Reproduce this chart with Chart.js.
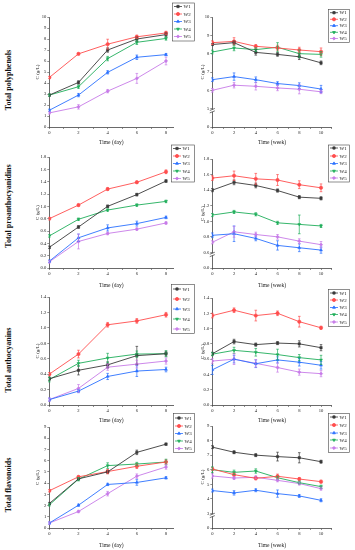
<!DOCTYPE html>
<html><head><meta charset="utf-8">
<script src="https://cdn.jsdelivr.net/npm/chart.js@4/dist/chart.umd.min.js"></script>
<style>
html,body{margin:0;padding:0;background:#fff;}
body{width:355px;height:550px;position:relative;overflow:hidden;font-family:"Liberation Serif",serif;}
canvas{position:absolute;}
.rowlab{position:absolute;font:bold 8px "Liberation Serif",serif;white-space:nowrap;transform:translate(-50%,-50%) rotate(-90deg);color:#111;}
</style></head><body>
<div class="rowlab" style="left:8px;top:80px">Total polyphenols</div>
<div class="rowlab" style="left:8px;top:206px">Total proanthocyanidins</div>
<div class="rowlab" style="left:8px;top:360px">Total anthocyanins</div>
<div class="rowlab" style="left:8px;top:485px">Total flavonoids</div>
<script>
// ---------- data ----------
const seriesNames = ['W1','W2','W3','W4','W5'];
const dayX = [0,2,4,6,8];
const weekX = [0,2,4,6,8,10];
const dayAxisTicks = [0,1,2,3,4,5,6,7,8];
const dayAxisLabels = ['0','','2','','4','','6','','8'];
const weekAxisTicks = [0,1,2,3,4,5,6,7,8,9,10,11];
const weekAxisLabels = ['0','','2','','4','','6','','8','','10',''];

// Total polyphenols (day)
const polyDay = [[2.9,4.05,7.0,8.0,8.4],[4.5,6.65,7.53,8.2,8.55],[1.52,2.9,4.97,6.34,6.58],[2.9,3.66,6.22,7.7,8.05],[1.28,1.83,3.26,4.42,6.0]];
const polyDayErr = [[0.1,0.15,0.2,0.2,0.2],[0.1,0.1,0.45,0.15,0.15],[0.1,0.15,0.15,0.2,0.1],[0.1,0.15,0.2,0.2,0.15],[0.1,0.2,0.15,0.45,0.35]];
const polyDayYTicks = [0,1,2,3,4,5,6,7,8,9,10];
const polyDayYLabels = ['0','1','2','3','4','5','6','7','8','9','10'];
// Total polyphenols (week)
const polyWeek = [[8.5,8.6,8.07,7.96,7.83,7.5],[8.6,8.67,8.4,8.31,8.2,8.11],[6.58,6.75,6.58,6.37,6.26,6.07],[8.09,8.31,8.22,8.35,8.0,7.96],[6.0,6.28,6.22,6.13,6.06,5.92]];
const polyWeekErr = [[0.05,0.1,0.15,0.1,0.15,0.1],[0.1,0.2,0.1,0.15,0.15,0.2],[0.1,0.2,0.15,0.1,0.15,0.2],[0.1,0.15,0.1,0.25,0.2,0.15],[0.1,0.15,0.2,0.15,0.25,0.1]];
const polyWeekYTicks = [4,5,6,7,8,9,10];
const polyWeekYLabels = ['0','5','6','7','8','9','10'];
// Total proanthocyanidins (day)
const proDay = [[0.335,0.665,1.0,1.19,1.41],[0.8,1.02,1.28,1.39,1.56],[0.11,0.49,0.65,0.72,0.82],[0.52,0.79,0.94,1.02,1.08],[0.1,0.43,0.56,0.63,0.73]];
const proDayErr = [[0.02,0.02,0.02,0.02,0.02],[0.02,0.02,0.02,0.02,0.03],[0.02,0.06,0.05,0.04,0.02],[0.02,0.02,0.02,0.02,0.02],[0.02,0.12,0.02,0.02,0.02]];
const proDayYTicks = [0,0.2,0.4,0.6,0.8,1.0,1.2,1.4,1.6,1.8];
const proDayYLabels = ['0.0','0.2','0.4','0.6','0.8','1.0','1.2','1.4','1.6','1.8'];
// Total proanthocyanidins (week)
const proWeek = [[1.4,1.5,1.46,1.395,1.31,1.295],[1.555,1.585,1.545,1.53,1.47,1.43],[0.82,0.84,0.78,0.69,0.66,0.63],[1.08,1.12,1.09,0.98,0.96,0.94],[0.73,0.865,0.83,0.8,0.745,0.7]];
const proWeekErr = [[0.02,0.03,0.03,0.02,0.02,0.02],[0.03,0.06,0.07,0.07,0.05,0.05],[0.03,0.1,0.03,0.06,0.05,0.04],[0.02,0.02,0.02,0.02,0.12,0.02],[0.02,0.07,0.03,0.03,0.03,0.04]];
const proWeekYTicks = [0.4,0.6,0.8,1.0,1.2,1.4,1.6,1.8];
const proWeekYLabels = ['0.0','0.6','0.8','1.0','1.2','1.4','1.6','1.8'];
// Total anthocyanins (day)
const antDay = [[0.34,0.45,0.52,0.64,0.665],[0.4,0.66,1.04,1.09,1.17],[0.07,0.18,0.37,0.44,0.46],[0.33,0.54,0.61,0.66,0.665],[0.07,0.215,0.49,0.53,0.57]];
const antDayErr = [[0.02,0.06,0.04,0.12,0.03],[0.02,0.05,0.03,0.03,0.03],[0.02,0.02,0.04,0.07,0.03],[0.03,0.04,0.06,0.04,0.04],[0.02,0.05,0.04,0.05,0.04]];
const antYTicks = [0,0.2,0.4,0.6,0.8,1.0,1.2,1.4];
const antYLabels = ['0.0','0.2','0.4','0.6','0.8','1.0','1.2','1.4'];
// Total anthocyanins (week)
const antWeek = [[0.67,0.83,0.79,0.81,0.8,0.75],[1.17,1.24,1.17,1.2,1.09,1.01],[0.46,0.6,0.54,0.59,0.56,0.52],[0.665,0.715,0.69,0.66,0.62,0.59],[0.575,0.6,0.545,0.49,0.43,0.41]];
const antWeekErr = [[0.02,0.03,0.02,0.02,0.04,0.04],[0.03,0.03,0.07,0.03,0.07,0.02],[0.06,0.05,0.05,0.04,0.05,0.05],[0.02,0.04,0.05,0.07,0.04,0.06],[0.03,0.07,0.05,0.06,0.04,0.04]];
// Total flavonoids (day)
const flaDay = [[2.18,4.38,5.0,6.74,7.47],[3.32,4.56,5.03,5.5,5.88],[0.44,2.03,3.88,4.06,4.47],[2.06,4.35,5.56,5.7,5.88],[0.44,1.47,3.06,4.62,5.44]];
const flaDayErr = [[0.1,0.1,0.15,0.2,0.1],[0.1,0.1,0.2,0.2,0.2],[0.1,0.1,0.1,0.25,0.1],[0.1,0.15,0.25,0.15,0.25],[0.1,0.1,0.2,0.2,0.2]];
const flaDayYTicks = [0,1,2,3,4,5,6,7,8,9];
const flaDayYLabels = ['0','1','2','3','4','5','6','7','8','9'];
// Total flavonoids (week)
const flaWeek = [[7.55,7.2,7.0,6.9,6.82,6.55],[6.05,5.66,5.41,5.55,5.36,5.18],[4.57,4.41,4.59,4.36,4.2,3.9],[6.0,5.82,5.91,5.45,5.11,4.84],[5.57,5.43,5.48,5.27,5.05,4.7]];
const flaWeekErr = [[0.1,0.1,0.1,0.3,0.35,0.1],[0.1,0.1,0.1,0.15,0.1,0.1],[0.1,0.15,0.1,0.25,0.1,0.1],[0.2,0.15,0.15,0.1,0.1,0.1],[0.15,0.1,0.1,0.1,0.1,0.1]];
const flaWeekYTicks = [2,3,4,5,6,7,8,9];
const flaWeekYLabels = ['0','3','4','5','6','7','8','9'];

// ---------- styles ----------
const colors = ['#3a3a3a','#ff4d4d','#2a70ff','#1fae5a','#c77be8'];
const pStyles = ['rect','circle','triangle','triangle','rectRot'];
const pRot = [0,0,0,180,0];
const FONT = '"Liberation Serif", serif';

const errorBars = {
  id:'errorBars',
  afterDatasetsDraw(chart){
    const {ctx, scales:{x,y}} = chart;
    chart.data.datasets.forEach(ds=>{
      if(!ds.errors) return;
      ctx.save(); ctx.strokeStyle=ds.borderColor; ctx.lineWidth=0.7;
      ds.data.forEach((p,i)=>{
        const e=ds.errors[i]; if(!e) return;
        const px=x.getPixelForValue(p.x), y1=y.getPixelForValue(p.y-e), y2=y.getPixelForValue(p.y+e);
        ctx.beginPath(); ctx.moveTo(px,y1); ctx.lineTo(px,y2);
        ctx.moveTo(px-1.3,y1); ctx.lineTo(px+1.3,y1);
        ctx.moveTo(px-1.3,y2); ctx.lineTo(px+1.3,y2);
        ctx.stroke();
      });
      ctx.restore();
    });
  }
};
const axisBreak = {
  id:'axisBreak',
  afterDraw(chart, args, opts){
    if(opts.value===undefined || opts.value===null) return;
    const {ctx, scales:{y}, chartArea} = chart;
    const yy = y.getPixelForValue(opts.value)+2, xx = chartArea.left;
    ctx.save();
    ctx.fillStyle='#fff'; ctx.fillRect(xx-2.5, yy-1.2, 5, 2.4);
    ctx.strokeStyle='#333'; ctx.lineWidth=0.7;
    ctx.beginPath();
    ctx.moveTo(xx-2.5,yy-0.2); ctx.lineTo(xx+2.5,yy-2.2);
    ctx.moveTo(xx-2.5,yy+2.2); ctx.lineTo(xx+2.5,yy+0.2);
    ctx.stroke(); ctx.restore();
  }
};
const boxLegend = {
  id:'boxLegend',
  afterDraw(chart, args, o){
    if(!o || !o.items) return;
    const ctx = chart.ctx;
    ctx.save();
    ctx.strokeStyle='#444'; ctx.lineWidth=0.6;
    ctx.strokeRect(o.x+0.5, o.y+0.5, o.w, o.h);
    chart.data.datasets.forEach((ds,i)=>{
      const yy = o.items[i];
      ctx.strokeStyle=ds.borderColor; ctx.lineWidth=0.8;
      ctx.beginPath(); ctx.moveTo(o.x+2, yy); ctx.lineTo(o.x+10, yy); ctx.stroke();
      ctx.fillStyle=ds.borderColor;
      Chart.helpers.drawPoint(ctx,{pointStyle:ds.pointStyle, radius:1.6, rotation:ds.pointRotation||0, borderWidth:0.6},o.x+6,yy);
      ctx.fillStyle='#222'; ctx.font='5px '+FONT; ctx.textBaseline='middle'; ctx.textAlign='left';
      ctx.fillText(ds.label, o.x+11.5, yy+0.3);
    });
    ctx.restore();
  }
};

const LX = [49.3,173.3], RX = [212.3,331.9];
const panels = [
  {vals:polyDay, err:polyDayErr, xs:dayX, xMax:8.5, xt:dayAxisTicks, xl:dayAxisLabels, xTitle:'Time (day)', yt:polyDayYTicks, yl:polyDayYLabels, area:[LX[0],LX[1],17,127], xH:19, cR:196, tPad:0, leg:{x:172,y:2.5,w:22,h:38,items:[6.5,14,21.5,29,36.5]}},
  {vals:polyWeek, err:polyWeekErr, xs:weekX, xMax:11, xt:weekAxisTicks, xl:weekAxisLabels, xTitle:'Time (week)', yt:polyWeekYTicks, yl:polyWeekYLabels, brk:5, area:[RX[0],RX[1],17,127], xH:19, cR:355, tPad:2, leg:{x:328,y:9,w:21,h:33,items:[12.7,19.3,25.7,32.3,38.5]}},
  {vals:proDay, err:proDayErr, xs:dayX, xMax:8.5, xt:dayAxisTicks, xl:dayAxisLabels, xTitle:'Time (day)', yt:proDayYTicks, yl:proDayYLabels, area:[LX[0],LX[1],157,268], xH:21, cR:196, tPad:0, leg:{x:171,y:144.5,w:23,h:37,items:[148.5,156,163.5,171,178.5]}},
  {vals:proWeek, err:proWeekErr, xs:weekX, xMax:11, xt:weekAxisTicks, xl:weekAxisLabels, xTitle:'Time (week)', yt:proWeekYTicks, yl:proWeekYLabels, brk:0.6, area:[RX[0],RX[1],159,268], xH:21, cR:355, tPad:2, leg:{x:328,y:144.5,w:21,h:37,items:[148,156,163.5,171,178]}},
  {vals:antDay, err:antDayErr, xs:dayX, xMax:8.5, xt:dayAxisTicks, xl:dayAxisLabels, xTitle:'Time (day)', yt:antYTicks, yl:antYLabels, area:[LX[0],LX[1],297,405], xH:19, cR:196, tPad:0, leg:{x:171,y:284,w:23,h:49,items:[289,299,309,319,329]}},
  {vals:antWeek, err:antWeekErr, xs:weekX, xMax:11, xt:weekAxisTicks, xl:weekAxisLabels, xTitle:'Time (week)', yt:antYTicks, yl:antYLabels, area:[RX[0],RX[1],298,405], xH:19, cR:355, tPad:2, leg:{x:328,y:289,w:21,h:37,items:[293,300,307.5,314.5,322]}},
  {vals:flaDay, err:flaDayErr, xs:dayX, xMax:8.5, xt:dayAxisTicks, xl:dayAxisLabels, xTitle:'Time (day)', yt:flaDayYTicks, yl:flaDayYLabels, area:[LX[0],LX[1],427,528], xH:21, cR:196, tPad:0, leg:{x:173,y:413,w:21,h:39,items:[418,426,433.5,441,448.5]}},
  {vals:flaWeek, err:flaWeekErr, xs:weekX, xMax:11, xt:weekAxisTicks, xl:weekAxisLabels, xTitle:'Time (week)', yt:flaWeekYTicks, yl:flaWeekYLabels, brk:3, area:[RX[0],RX[1],426,528], xH:21, cR:355, tPad:2, leg:{x:328,y:413,w:21,h:39,items:[417,425,433,440,448]}}
];

const YW = 15;
panels.forEach(p=>{
  const [aL,aR,aT,aB] = p.area;
  const cL = Math.round(aL - YW), cT = Math.floor(Math.min(aT - 6, p.leg.y - 1));
  const cB = Math.min(550, Math.round(aB + p.xH + 1));
  const W = p.cR - cL, H = cB - cT;
  const cv = document.createElement('canvas');
  cv.width = W; cv.height = H;
  cv.style.left = cL+'px'; cv.style.top = cT+'px';
  cv.style.width = W+'px'; cv.style.height = H+'px';
  document.body.appendChild(cv);
  const datasets = p.vals.map((v,i)=>({
    label: seriesNames[i],
    data: v.map((y,j)=>({x:p.xs[j], y})),
    errors: p.err[i],
    borderColor: colors[i], backgroundColor: colors[i],
    borderWidth: 0.9, pointStyle: pStyles[i], pointRotation: pRot[i],
    pointRadius: 1.7, pointBorderWidth: 0.5, tension: 0, fill:false
  }));
  const leg = {x:p.leg.x-cL, y:p.leg.y-cT, w:p.leg.w, h:p.leg.h, items:p.leg.items.map(v=>v-cT)};
  new Chart(cv, {
    type:'line',
    data:{datasets},
    plugins:[errorBars, axisBreak, boxLegend],
    options:{
      responsive:false, animation:false, devicePixelRatio:1,
      layout:{padding:{left: aL - cL - YW, top: aT - cT, right: p.cR - aR, bottom: cB - aB - p.xH}},
      plugins:{legend:{display:false}, tooltip:{enabled:false}, axisBreak:{value:p.brk}, boxLegend:leg},
      scales:{
        x:{type:'linear', min:0, max:p.xMax,
          afterFit(s){ s.height = p.xH; s.paddingLeft=0; s.paddingRight=0; },
          afterBuildTicks(s){ s.ticks = p.xt.map(v=>({value:v})); },
          ticks:{autoSkip:false, maxRotation:0, padding:1, color:'#222', font:{family:FONT,size:4.6},
            callback:(v,i)=>p.xl[i]},
          grid:{display:true, drawOnChartArea:false, drawTicks:true, tickLength:2, tickColor:'#444', tickWidth:0.6},
          border:{display:true, color:'#444', width:0.8},
          title:{display:true, text:p.xTitle, color:'#222', font:{family:FONT,size:5.5}, padding:{top:0,bottom:0}}
        },
        y:{type:'linear', min:p.yt[0], max:p.yt[p.yt.length-1],
          afterFit(s){ s.width = YW; s.paddingTop=0; s.paddingBottom=0; },
          afterBuildTicks(s){ s.ticks = p.yt.map(v=>({value:v})); },
          ticks:{autoSkip:false, padding:1, color:'#222', font:{family:FONT,size:4.6},
            callback:(v,i)=>p.yl[i]},
          grid:{display:true, drawOnChartArea:false, drawTicks:true, tickLength:2, tickColor:'#444', tickWidth:0.6},
          border:{display:true, color:'#444', width:0.8},
          title:{display:true, text:'C (g/L)', color:'#222', font:{family:FONT,size:5}, padding:{top:p.tPad,bottom:0}}
        }
      }
    }
  });
});
</script>
</body></html>
